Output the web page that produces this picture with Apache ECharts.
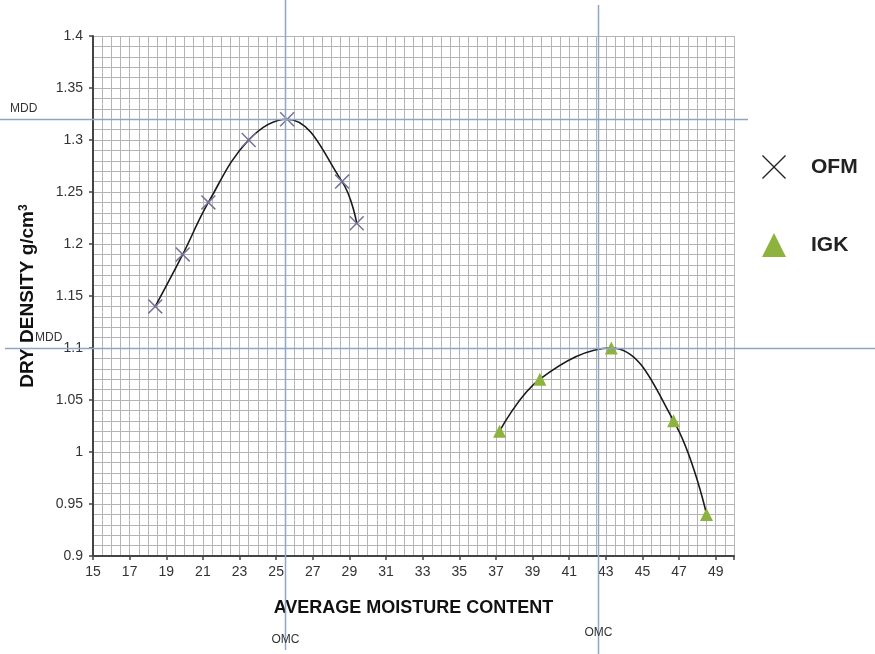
<!DOCTYPE html>
<html>
<head>
<meta charset="utf-8">
<script src="https://cdn.jsdelivr.net/npm/echarts@6/dist/echarts.min.js"></script>
<style>html,body{margin:0;padding:0;background:#fff}#c{width:875px;height:654px}</style>
</head>
<body>
<div id="c"></div>
<script>
// ---- data ----
const ofmX = [18.4, 19.9, 21.3, 23.5, 25.6, 28.6, 29.4];
const ofmY = [1.14, 1.19, 1.24, 1.30, 1.32, 1.26, 1.22];
const igkX = [37.2, 39.4, 43.3, 46.7, 48.5];
const igkY = [1.02, 1.07, 1.10, 1.03, 0.94];
const mddValues = [1.32, 1.10];
const omcValues = [25.5, 42.6];
const seriesNames = ['OFM', 'IGK'];
const xTitle = 'AVERAGE MOISTURE CONTENT';

const FONT = '"Liberation Sans", Arial, sans-serif';
const crossPath = 'path://M0,7L7,0L50,43L93,0L100,7L57,50L100,93L93,100L50,57L7,100L0,93L43,50Z';
const crossPathThin = 'path://M0,4L4,0L50,46L96,0L100,4L54,50L100,96L96,100L50,54L4,100L0,96L46,50Z';
const triPath = 'triangle';

const zip = (xs, ys) => xs.map((x, i) => [x, ys[i]]);

const chart = echarts.init(document.getElementById('c'), null, {renderer: 'canvas'});
const gridLine = {show: true, lineStyle: {color: '#b4b4b4', width: 1}};

const option = {
  backgroundColor: '#fff',
  animation: false,
  grid: {left: 93, right: 141, top: 36, bottom: 98},
  legend: {
    orient: 'vertical', left: 757, top: 150, itemGap: 54,
    itemWidth: 24, itemHeight: 24,
    textStyle: {fontFamily: FONT, fontSize: 21, fontWeight: 'bold', color: '#222', padding: [0, 0, 0, 20]},
    data: [
      {name: seriesNames[0], icon: crossPathThin, itemStyle: {color: '#222'}},
      {name: seriesNames[1], icon: triPath, itemStyle: {color: '#8db33e'}}
    ]
  },
  xAxis: [
    {
      type: 'value', min: 15, max: 50, interval: 2,
      name: xTitle, nameLocation: 'middle', nameGap: 43,
      nameTextStyle: {fontFamily: FONT, fontSize: 18, fontWeight: 'bold', color: '#111'},
      axisLine: {show: true, onZero: false, lineStyle: {color: '#444', width: 2}},
      axisTick: {show: true, length: 4, lineStyle: {color: '#444', width: 1.5}},
      axisLabel: {fontFamily: FONT, fontSize: 14, color: '#333', margin: 9,
        formatter: v => (v === 50 ? '' : String(v))},
      splitLine: {show: false}
    },
    {
      type: 'value', min: 15, max: 50, interval: 0.5, position: 'bottom',
      axisLine: {show: false}, axisTick: {show: false}, axisLabel: {show: false},
      splitLine: gridLine
    }
  ],
  yAxis: [
    {
      type: 'value', min: 0.9, max: 1.4, interval: 0.05,
      name: '{a|DRY DENSITY g/cm}{s|3}', nameLocation: 'middle', nameGap: 55, nameRotate: 90,
      nameTextStyle: {
        rich: {
          a: {fontFamily: FONT, fontSize: 19, fontWeight: 'bold', color: '#111'},
          s: {fontFamily: FONT, fontSize: 12, fontWeight: 'bold', color: '#111', verticalAlign: 'top', padding: [0, 0, 8, 0]}
        }
      },
      axisLine: {show: true, onZero: false, lineStyle: {color: '#444', width: 2}},
      axisTick: {show: true, length: 4, lineStyle: {color: '#444', width: 1.5}},
      axisLabel: {fontFamily: FONT, fontSize: 14, color: '#333', margin: 10,
        formatter: v => String(+v.toFixed(2))},
      splitLine: {show: false}
    },
    {
      type: 'value', min: 0.9, max: 1.4, interval: 0.01, position: 'left',
      axisLine: {show: false}, axisTick: {show: false}, axisLabel: {show: false},
      splitLine: gridLine
    }
  ],
  series: [
    {
      name: seriesNames[0], type: 'line', xAxisIndex: 0, yAxisIndex: 0,
      data: zip(ofmX, ofmY), smooth: 0.4,
      symbol: crossPath, symbolSize: 15, showSymbol: true,
      itemStyle: {color: '#74729a'},
      lineStyle: {color: '#1a1a1a', width: 1.6}, z: 5
    },
    {
      name: seriesNames[1], type: 'line', xAxisIndex: 0, yAxisIndex: 0,
      data: zip(igkX, igkY), smooth: 0.4,
      symbol: triPath, symbolSize: 13, showSymbol: true,
      itemStyle: {color: '#8db33e'},
      lineStyle: {color: '#1a1a1a', width: 1.6}, z: 5
    }
  ]
};
chart.setOption(option);

// reference lines (MDD / OMC) extended across the page, positioned by the chart's scales
const W = 875, H = 654;
const refColor = '#8ea6c6';
const px = (x, y) => chart.convertToPixel({xAxisIndex: 0, yAxisIndex: 0}, [x, y]);
const g = [];
const hExt = [[0, 748], [5, W]];
const mddLabelX = [10, 35];
mddValues.forEach((v, i) => {
  const y = Math.round(px(20, v)[1]) + 0.5;
  g.push({type: 'line', shape: {x1: hExt[i][0], y1: y, x2: hExt[i][1], y2: y},
    style: {stroke: refColor, lineWidth: 1.5}, z: 10});
  g.push({type: 'text', x: mddLabelX[i], y: y - 5,
    style: {text: 'MDD', fill: '#333', font: '12px ' + FONT, textVerticalAlign: 'bottom'}, z: 10});
});
const vExt = [[0, 650], [5, H]];
const omcLabelY = [640, 633];
omcValues.forEach((v, i) => {
  const x = Math.round(px(v, 1)[0]) + 0.5;
  g.push({type: 'line', shape: {x1: x, y1: vExt[i][0], x2: x, y2: vExt[i][1]},
    style: {stroke: refColor, lineWidth: 1.5}, z: 10});
  g.push({type: 'text', x: x, y: omcLabelY[i],
    style: {text: 'OMC', fill: '#333', font: '12px ' + FONT, textAlign: 'center', textVerticalAlign: 'middle'}, z: 11});
});
chart.setOption({graphic: g});
</script>
</body>
</html>
